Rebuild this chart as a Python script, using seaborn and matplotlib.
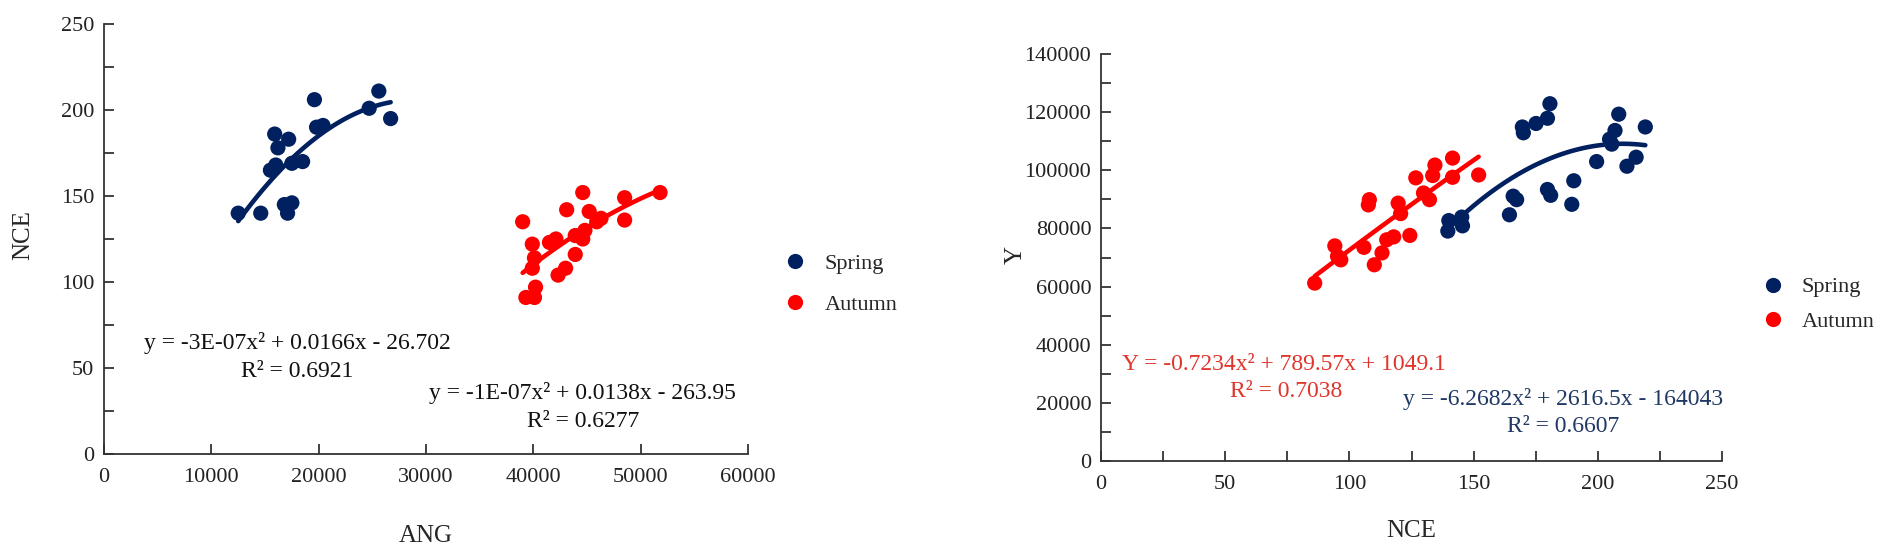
import pandas as pd
import matplotlib.pyplot as plt
import seaborn as sns
from matplotlib.ticker import MultipleLocator

# left panel: ANG vs NCE
spring_ang = [12500, 14600, 15500, 16000, 15900, 16200, 17200, 16800, 17500, 17100,
              17500, 18500, 19600, 19800, 20400, 24700, 25600, 26700]
spring_nce = [140, 140, 165, 168, 186, 178, 183, 145, 146, 140,
              169, 170, 206, 190, 191, 201, 211, 195]
autumn_ang = [39000, 39300, 40100, 40200, 39900, 40100, 39900, 41500, 42100, 42300, 43000, 43100,
              43900, 43900, 44600, 44600, 44800, 45200, 45900, 46300, 48500, 48500, 51800]
autumn_nce = [135, 91, 91, 97, 122, 114, 108, 123, 125, 104, 108, 142,
              116, 127, 152, 125, 130, 141, 135, 137, 149, 136, 152]

# right panel: NCE vs Y
r_spring_nce = [139.6, 140.0, 145.5, 145.2, 164.4, 165.9, 167.3, 169.6, 170.0, 175.1, 179.7, 180.7,
                179.7, 181.0, 189.5, 190.3, 199.5, 204.7, 205.6, 206.9, 208.4, 211.7, 215.4, 219.1]
r_spring_y = [79100, 82700, 80900, 83900, 84700, 91100, 89900, 114900, 112900, 116100, 117900, 122900,
              93400, 91400, 88300, 96400, 103000, 110700, 109000, 113700, 119300, 101400, 104500, 114900]
r_autumn_nce = [86.0, 94.1, 95.2, 96.5, 105.8, 108.0, 107.6, 110.0, 113.1, 115.0, 117.8,
                119.6, 120.6, 124.3, 126.7, 129.8, 132.2, 133.5, 134.4, 141.5, 141.5, 152.0]
r_autumn_y = [61200, 74000, 70400, 69200, 73500, 89900, 88100, 67500, 71600, 76100, 77100,
              88700, 85100, 77600, 97400, 92200, 89900, 98200, 101800, 104200, 97600, 98400]

navy = "#002060"
red = "#FF0000"
palette = {"Spring": navy, "Autumn": red}

df_left = pd.DataFrame({
    "ANG": spring_ang + autumn_ang,
    "NCE": spring_nce + autumn_nce,
    "season": ["Spring"] * len(spring_ang) + ["Autumn"] * len(autumn_ang),
})
df_right = pd.DataFrame({
    "NCE": r_spring_nce + r_autumn_nce,
    "Y": r_spring_y + r_autumn_y,
    "season": ["Spring"] * len(r_spring_nce) + ["Autumn"] * len(r_autumn_nce),
})

sns.set_style("ticks")
plt.rcParams["font.family"] = ["Liberation Serif", "DejaVu Serif"]
fs_tick = 16
fs_eq = 17

fig = plt.figure(figsize=(19.02, 5.45), dpi=100)
ax1 = fig.add_axes([0.0547, 0.167, 0.3386, 0.789])
ax2 = fig.add_axes([0.5789, 0.1541, 0.3265, 0.7468])

for ax, df, xcol, ycol in [(ax1, df_left, "ANG", "NCE"), (ax2, df_right, "NCE", "Y")]:
    sns.scatterplot(data=df, x=xcol, y=ycol, hue="season", hue_order=["Spring", "Autumn"],
                    palette=palette, s=120, edgecolor="none", ax=ax)
    for season in ["Spring", "Autumn"]:
        sub = df[df["season"] == season]
        sns.regplot(data=sub, x=xcol, y=ycol, order=2, ci=None, scatter=False,
                    color=palette[season], line_kws={"lw": 3.3}, ax=ax)
    sns.despine(ax=ax)
    ax.tick_params(direction="in", which="both", length=7, width=1.2,
                   labelsize=fs_tick, colors="#222222")
    ax.tick_params(axis="x", pad=10)
    ax.tick_params(axis="y", pad=7)
    for sp in ["left", "bottom"]:
        ax.spines[sp].set_linewidth(1.3)
        ax.spines[sp].set_color("#333333")
    ax.set_xlabel(xcol, fontsize=fs_eq + 1)
    ax.set_ylabel(ycol, fontsize=fs_eq + 1)

ax1.set_xlim(0, 60000)
ax1.set_ylim(0, 250)
ax1.xaxis.set_major_locator(MultipleLocator(10000))
ax1.yaxis.set_major_locator(MultipleLocator(50))
ax1.yaxis.set_minor_locator(MultipleLocator(25))
ax1.yaxis.set_label_coords(-0.108, 0.51)
ax1.xaxis.set_label_coords(0.5, -0.165)

ax2.set_xlim(0, 250)
ax2.set_ylim(0, 140000)
ax2.xaxis.set_major_locator(MultipleLocator(50))
ax2.xaxis.set_minor_locator(MultipleLocator(25))
ax2.yaxis.set_major_locator(MultipleLocator(20000))
ax2.yaxis.set_minor_locator(MultipleLocator(10000))
ax2.yaxis.set_label_coords(-0.12, 0.506)
ax2.xaxis.set_label_coords(0.5, -0.145)

ax1.text(18000, 64.5, "y = -3E-07x² + 0.0166x - 26.702", ha="center", va="center", fontsize=fs_eq, color="#111111")
ax1.text(18000, 48, "R² = 0.6921", ha="center", va="center", fontsize=fs_eq, color="#111111")
ax1.text(44600, 35.5, "y = -1E-07x² + 0.0138x - 263.95", ha="center", va="center", fontsize=fs_eq, color="#111111")
ax1.text(44600, 19, "R² = 0.6277", ha="center", va="center", fontsize=fs_eq, color="#111111")

ax2.text(73.5, 33200, "Y = -0.7234x² + 789.57x + 1049.1", ha="center", va="center", fontsize=fs_eq, color="#E0352B")
ax2.text(74.5, 23900, "R² = 0.7038", ha="center", va="center", fontsize=fs_eq, color="#E0352B")
ax2.text(186, 21200, "y = -6.2682x² + 2616.5x - 164043", ha="center", va="center", fontsize=fs_eq, color="#1F3864")
ax2.text(186, 11900, "R² = 0.6607", ha="center", va="center", fontsize=fs_eq, color="#1F3864")

sns.move_legend(ax1, loc="center left", bbox_to_anchor=(1.008, 0.395), frameon=False,
                title=None, fontsize=fs_tick, handletextpad=0.3, labelspacing=0.95)
sns.move_legend(ax2, loc="center left", bbox_to_anchor=(1.014, 0.385), frameon=False,
                title=None, fontsize=fs_tick, handletextpad=0.3, labelspacing=0.62)

fig.savefig("out.png", dpi=100)
